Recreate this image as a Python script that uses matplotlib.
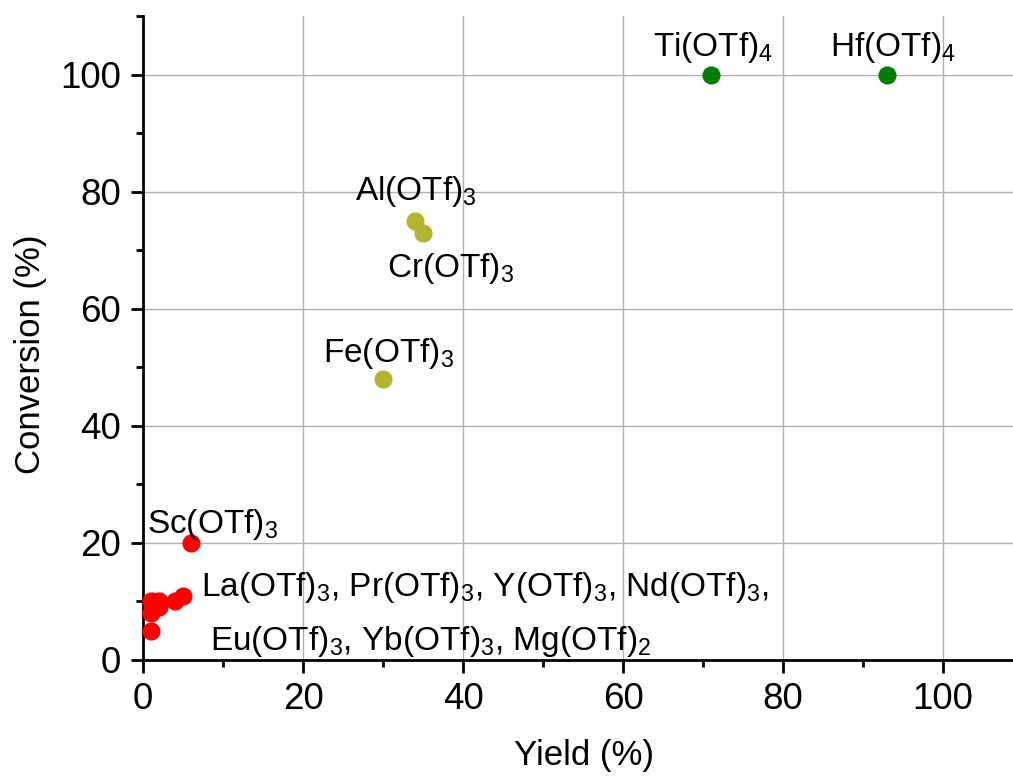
import matplotlib
matplotlib.use("Agg")
import matplotlib.pyplot as plt
from matplotlib.ticker import MultipleLocator

plt.rcParams["font.family"] = ["Liberation Sans", "DejaVu Sans"]

# catalyst groups: yield (%), conversion (%)
green_yield = [71, 93]
green_conv = [100, 100]

olive_yield = [34, 35, 30]
olive_conv = [75, 73, 48]

red_yield = [6, 1, 2, 1, 2, 1, 4, 5]
red_conv = [20, 10, 10, 8, 9, 5, 10, 11]

labels = [
    r"Ti(OTf)$_\mathregular{4}$",
    r"Hf(OTf)$_\mathregular{4}$",
    r"Al(OTf)$_\mathregular{3}$",
    r"Cr(OTf)$_\mathregular{3}$",
    r"Fe(OTf)$_\mathregular{3}$",
    r"Sc(OTf)$_\mathregular{3}$",
    r"La(OTf)$_\mathregular{3}$, Pr(OTf)$_\mathregular{3}$, Y(OTf)$_\mathregular{3}$, Nd(OTf)$_\mathregular{3}$,",
    r"Eu(OTf)$_\mathregular{3}$, Yb(OTf)$_\mathregular{3}$, Mg(OTf)$_\mathregular{2}$",
]
# where each label's left baseline sits, in data units
label_pos = [(63.7, 103.1), (85.9, 103.1), (26.5, 78.6), (30.5, 65.5),
             (22.5, 50.9), (0.5, 21.7), (7.2, 10.9), (8.4, 1.7)]

fig = plt.figure(figsize=(10.13, 7.76), dpi=100)
ax = fig.add_axes([0.1412, 0.1495, 1 - 0.1412, 0.9794 - 0.1495])

ax.scatter(green_yield, green_conv, s=145, color="#008000", zorder=3, clip_on=False)
ax.scatter(olive_yield, olive_conv, s=145, color="#b4b432", zorder=3, clip_on=False)
ax.scatter(red_yield, red_conv, s=145, color="#ff0000", zorder=3, clip_on=False)

for txt, (x, y) in zip(labels, label_pos):
    ax.text(x, y, txt, fontsize=24, ha="left", va="baseline", zorder=4)

ax.set_xlim(0, 108.75)
ax.set_ylim(0, 110)
ax.xaxis.set_major_locator(MultipleLocator(20))
ax.xaxis.set_minor_locator(MultipleLocator(10))
ax.yaxis.set_major_locator(MultipleLocator(20))
ax.yaxis.set_minor_locator(MultipleLocator(10))

ax.grid(True, which="major", color="#b0b0b0", linewidth=1.0)
ax.set_axisbelow(True)

for side in ("top", "right"):
    ax.spines[side].set_visible(False)
for side in ("left", "bottom"):
    ax.spines[side].set_linewidth(2.0)

ax.tick_params(which="major", direction="out", length=9, width=2, labelsize=26.5, pad=7)
ax.tick_params(which="minor", direction="out", length=5, width=2)

ax.set_xlabel("Yield (%)", fontsize=25)
ax.set_ylabel("Conversion (%)", fontsize=25)
ax.xaxis.set_label_coords(0.507, -0.122)
ax.yaxis.set_label_coords(-0.11, 0.474)

fig.savefig("out.png", dpi=100)
